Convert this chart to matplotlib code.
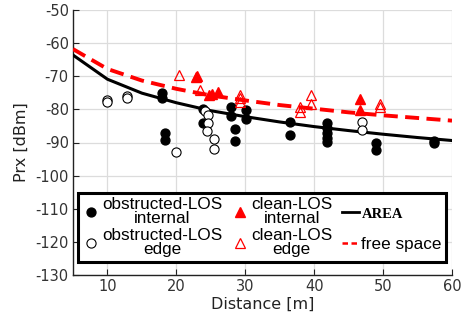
import matplotlib
matplotlib.use("Agg")
import matplotlib.pyplot as plt
from matplotlib.font_manager import FontProperties

# ---- data ----
obs_int_x = [17.9, 17.9, 18.4, 18.4, 23.9, 23.9, 28.0, 28.0, 28.5, 28.5, 30.1, 30.1,
             36.5, 36.5, 41.9, 41.9, 41.9, 41.9, 41.9, 49.0, 49.0, 57.4, 57.4]
obs_int_y = [-75.2, -76.7, -87.2, -89.3, -79.9, -84.2, -79.3, -81.9, -85.8, -89.4, -80.1, -82.9,
             -83.7, -87.8, -84.2, -85.6, -87.0, -88.5, -89.9, -90.2, -92.4, -89.5, -90.3]

obs_edge_x = [9.9, 9.9, 12.9, 12.9, 20.0, 24.1, 24.6, 24.6, 24.4, 25.4, 25.4, 46.9, 46.9]
obs_edge_y = [-77.2, -77.9, -75.9, -76.5, -92.9, -80.4, -81.8, -84.0, -86.4, -89.0, -92.1, -83.8, -86.1]

clean_int_x = [22.9, 23.0, 24.7, 25.1, 26.1, 46.6, 46.6]
clean_int_y = [-70.3, -70.0, -75.7, -75.5, -74.9, -76.8, -80.2]

clean_edge_x = [20.4, 23.5, 29.3, 29.3, 29.3, 37.9, 37.9, 39.5, 39.5, 49.6, 49.6]
clean_edge_y = [-69.6, -74.2, -75.7, -76.7, -77.7, -79.4, -80.7, -75.8, -78.3, -78.3, -79.3]

dist = [5, 10, 15, 20, 25, 30, 35, 40, 45, 50, 55, 60]
area = [-63.6, -70.9, -75.1, -78.0, -80.4, -82.2, -83.8, -85.2, -86.4, -87.5, -88.5, -89.4]
free_space = [-61.8, -67.8, -71.3, -73.8, -75.8, -77.3, -78.7, -79.8, -80.9, -81.8, -82.6, -83.4]

xticks = [10, 20, 30, 40, 50, 60]
yticks = [-50, -60, -70, -80, -90, -100, -110, -120, -130]

labels = ["obstructed-LOS\ninternal", "obstructed-LOS\nedge",
          "clean-LOS\ninternal", "clean-LOS\nedge", "AREA", "free space"]

# ---- plot ----
plt.rcParams['axes.unicode_minus'] = False
plt.rcParams['font.family'] = ['DejaVu Sans']

fig = plt.figure(figsize=(4.64, 3.30), dpi=100)
ax = fig.add_axes([73/464, 55/330, 379/464, 265/330])

l_area, = ax.plot(dist, area, color='black', lw=2.2, zorder=3)
l_fs, = ax.plot(dist, free_space, color='red', lw=2.8, dashes=(3.6, 1.9), zorder=3)

h1, = ax.plot(obs_int_x, obs_int_y, 'o', ms=6.4, color='black', mec='black', zorder=4)
h2, = ax.plot(obs_edge_x, obs_edge_y, 'o', ms=6.6, mfc='white', mec='black', mew=0.8, zorder=4)
h3, = ax.plot(clean_int_x, clean_int_y, '^', ms=7, color='red', mec='red', zorder=5)
h4, = ax.plot(clean_edge_x, clean_edge_y, '^', ms=7.5, mfc='none', mec='red', mew=0.9, zorder=5)

ax.set_xlim(5, 60)
ax.set_ylim(-130, -50)
ax.set_xticks(xticks)
ax.set_yticks(yticks)
ax.grid(True, color='#dcdcdc', lw=0.9, zorder=0)
ax.set_axisbelow(True)
for s in ['top', 'right']:
    ax.spines[s].set_visible(False)
for s in ['left', 'bottom']:
    ax.spines[s].set_color('#222222')
    ax.spines[s].set_linewidth(1.0)
ax.tick_params(direction='in', length=4, width=0.8, labelsize=10.5,
               labelcolor='#333333', color='#222222', pad=3)
ax.set_xlabel('Distance [m]', fontsize=11.5, color='#222222', labelpad=2)
ax.set_ylabel('Prx [dBm]', fontsize=11.5, color='#222222', labelpad=5)

handles = [h1, h2, h3, h4, l_area, l_fs]
leg = ax.legend(handles, labels, ncol=3, loc='upper left',
                bbox_to_anchor=(0.013, 0.31), fancybox=False, framealpha=1,
                edgecolor='black', prop=FontProperties(family='Liberation Sans', size=12.3),
                handlelength=1.0, handletextpad=0.15, columnspacing=0.55,
                labelspacing=0.15, borderpad=0.25, borderaxespad=0)
leg.get_frame().set_linewidth(2.2)
leg.set_zorder(10)
for t in leg.get_texts():
    t.set_multialignment('center')
    t.set_linespacing(0.9)
leg.get_texts()[4].set_fontproperties(FontProperties(family='Liberation Serif', weight='bold', size=10.5))
lh = leg.legend_handles
lh[4].set_linewidth(2.0)
lh[5].set_linewidth(1.8)
lh[5].set_dashes((2.2, 1.4))

# align rows of the third column with the two-line rows
fig.canvas.draw()
r = fig.canvas.get_renderer()
def yc(a):
    bb = a.get_window_extent(r)
    return 0.5 * (bb.y0 + bb.y1)
col3 = leg._legend_handle_box.get_children()[2]
diff = yc(lh[4]) - yc(lh[5]) - (yc(lh[0]) - yc(lh[1]))
col3.sep = col3.sep - diff * 72 / fig.dpi
fig.savefig('out.png', dpi=100)
